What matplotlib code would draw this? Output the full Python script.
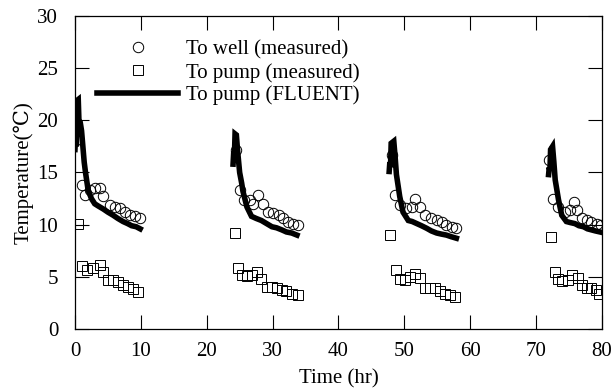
import matplotlib
matplotlib.use("Agg")
import matplotlib.pyplot as plt
import numpy as np

plt.rcParams['font.family'] = ['Liberation Serif', 'DejaVu Serif']
plt.rcParams['font.size'] = 15

# To well (measured) - circles
well_t = [0.15, 1.0, 1.5, 2.3, 3.0, 3.8, 4.3, 5.3, 6.1, 6.8, 7.6, 8.3, 9.1, 9.9,
          24.5, 25.0, 25.6, 26.6, 27.1, 27.8, 28.6, 29.3, 30.1, 30.9, 31.6, 32.4, 33.1, 33.9,
          48.1, 48.6, 49.3, 50.3, 51.1, 51.6, 52.4, 53.1, 54.1, 54.9, 55.7, 56.4, 57.2, 57.9,
          72.0, 72.6, 73.4, 74.4, 75.1, 75.8, 76.2, 76.9, 77.7, 78.4, 79.2, 79.9]
well_T = [18.1, 13.8, 12.85, 13.3, 13.5, 13.5, 12.7, 11.9, 11.7, 11.6, 11.25, 10.9, 10.8, 10.6,
          17.2, 13.3, 12.4, 12.4, 12.0, 12.8, 12.0, 11.2, 11.1, 10.9, 10.6, 10.3, 10.1, 10.0,
          16.7, 12.85, 11.9, 11.55, 11.7, 12.5, 11.7, 10.9, 10.6, 10.45, 10.3, 10.0, 9.8, 9.65,
          16.2, 12.5, 11.7, 11.25, 11.4, 12.2, 11.4, 10.6, 10.45, 10.3, 10.1, 10.0]

# To pump (measured) - squares
pump_t = [0.4, 1.0, 1.8, 2.8, 3.8, 4.3, 5.0, 5.8, 6.5, 7.3, 8.0, 8.8, 9.6,
          24.3, 24.8, 25.3, 26.1, 26.8, 27.6, 28.3, 29.1, 29.9, 30.6, 31.4, 32.1, 32.9, 33.9,
          47.8, 48.8, 49.3, 50.1, 50.9, 51.6, 52.4, 53.1, 53.9, 54.6, 55.4, 56.2, 56.9, 57.7,
          72.3, 72.9, 73.4, 74.0, 74.9, 75.5, 76.3, 76.9, 77.7, 78.4, 79.1, 79.6]
pump_T = [10.1, 6.0, 5.65, 5.8, 6.1, 5.5, 4.7, 4.7, 4.5, 4.2, 4.0, 3.8, 3.5,
          9.2, 5.8, 5.2, 5.1, 5.2, 5.5, 4.75, 4.05, 4.05, 3.9, 3.75, 3.6, 3.4, 3.25,
          9.0, 5.65, 4.75, 4.7, 5.0, 5.3, 4.85, 3.9, 3.9, 3.9, 3.6, 3.4, 3.25, 3.1,
          8.85, 5.5, 4.75, 4.6, 4.7, 5.2, 4.85, 4.2, 3.9, 3.9, 3.75, 3.4]

# To pump (FLUENT) - thick line, one segment per cycle
fl1_t = [0.0, 0.1, 0.2, 0.3, 0.5, 0.6, 0.8, 1.0, 1.2, 1.4, 1.6, 2.0, 2.5, 3.0, 3.5, 4.3, 5.0, 5.8, 6.5, 7.3, 8.0, 8.6, 9.3, 9.9]
fl1_T = [17.2, 18.5, 17.5, 21.9, 22.0, 20.0, 19.8, 19.0, 17.5, 16.0, 15.0, 13.3, 12.5, 12.0, 11.8, 11.5, 11.2, 10.9, 10.6, 10.3, 10.1, 9.9, 9.8, 9.6]
fl2_t = [24.0, 24.1, 24.2, 24.3, 24.5, 24.7, 25.0, 25.3, 25.5, 26.1, 26.8, 27.5, 28.3, 29.1, 29.9, 30.6, 31.4, 32.1, 32.9, 33.7]
fl2_T = [15.8, 17.0, 16.5, 18.7, 18.6, 17.0, 15.0, 14.0, 13.2, 11.7, 10.8, 10.6, 10.4, 10.1, 9.8, 9.7, 9.5, 9.3, 9.2, 9.0]
fl3_t = [47.7, 47.8, 47.9, 48.0, 48.4, 48.6, 48.8, 49.3, 49.8, 50.6, 51.2, 51.9, 52.6, 53.4, 54.1, 54.9, 55.6, 56.4, 57.1, 57.9]
fl3_T = [15.1, 16.0, 15.5, 17.8, 18.0, 16.5, 14.8, 12.7, 11.2, 10.4, 10.3, 10.1, 9.9, 9.65, 9.4, 9.2, 9.1, 9.0, 8.85, 8.7]
fl4_t = [71.9, 72.0, 72.1, 72.2, 72.5, 72.7, 72.9, 73.4, 73.9, 74.6, 75.2, 75.9, 76.5, 77.2, 77.8, 78.4, 79.0, 79.7]
fl4_T = [14.8, 15.5, 15.2, 17.2, 17.5, 16.0, 14.3, 12.4, 10.9, 10.3, 10.2, 10.1, 9.9, 9.8, 9.6, 9.5, 9.4, 9.3]

x_ticks = [0, 10, 20, 30, 40, 50, 60, 70, 80]
y_ticks = [0, 5, 10, 15, 20, 25, 30]

fig = plt.figure(figsize=(6.11, 3.92), dpi=100)
ax = fig.add_axes([0.1227, 0.1607, 0.8625, 0.7985])

line_h = None
for tt, TT in [(fl1_t, fl1_T), (fl2_t, fl2_T), (fl3_t, fl3_T), (fl4_t, fl4_T)]:
    l, = ax.plot(tt, TT, color='black', lw=4.0, solid_joinstyle='miter', zorder=2)
    if line_h is None:
        line_h = l
circ, = ax.plot(well_t, well_T, 'o', mfc='none', mec='black', ms=7.5, mew=0.7, zorder=3)
sq, = ax.plot(pump_t, pump_T, 's', mfc='none', mec='black', ms=6.5, mew=0.7, zorder=3)

ax.set_xlim(0, 80)
ax.set_ylim(0, 30)
ax.set_xticks(x_ticks)
ax.set_yticks(y_ticks)
ax.tick_params(direction='in', length=10, width=0.8, top=True, right=True, labelsize=15)
ax.tick_params(axis='x', pad=9)
ax.tick_params(axis='y', pad=12)
for s in ax.spines.values():
    s.set_linewidth(0.9)

ax.set_xlabel('Time (hr)', fontsize=15, labelpad=6)
ax.set_ylabel('Temperature(℃)', fontsize=15, labelpad=3)

ax.legend([circ, sq, line_h], ['To well (measured)', 'To pump (measured)', 'To pump (FLUENT)'],
          loc='upper left', bbox_to_anchor=(0.042, 0.923), frameon=False, borderpad=0,
          borderaxespad=0, handlelength=3.9, handletextpad=0.35, labelspacing=0.15, fontsize=15)

fig.savefig('out.png', dpi=100)
